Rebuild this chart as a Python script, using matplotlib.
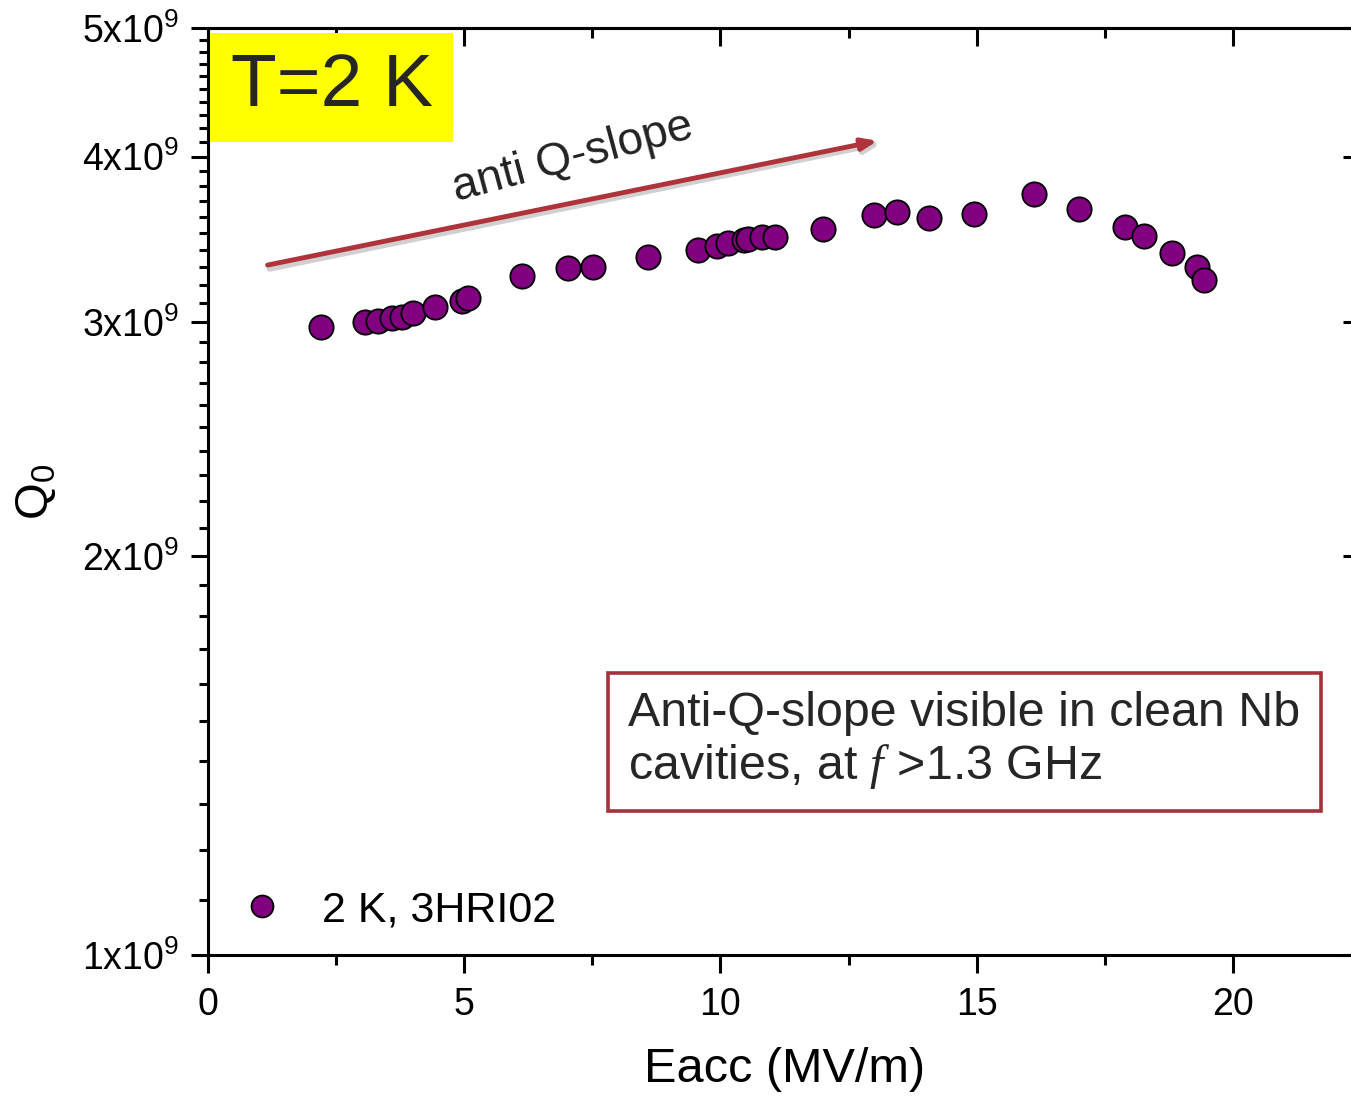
import matplotlib
matplotlib.use("Agg")
import matplotlib.pyplot as plt
import matplotlib.ticker as ticker
from matplotlib.patches import Rectangle

# Q0 vs accelerating field, 2 K, cavity 3HRI02
eacc = [2.21, 3.07, 3.32, 3.59, 3.79, 4.00, 4.43, 4.96, 5.08,
        6.13, 7.03, 7.52, 8.59, 9.57, 9.94, 10.14, 10.45, 10.53, 10.82, 11.07,
        12.01, 12.99, 13.44, 14.06, 14.94, 16.11, 16.99, 17.89, 18.26, 18.81,
        19.30, 19.43]
q0 = [2.974e9, 3.003e9, 3.008e9, 3.021e9, 3.029e9, 3.047e9, 3.082e9, 3.114e9, 3.127e9,
      3.251e9, 3.294e9, 3.300e9, 3.361e9, 3.401e9, 3.425e9, 3.444e9, 3.458e9, 3.465e9, 3.477e9, 3.481e9,
      3.526e9, 3.615e9, 3.636e9, 3.594e9, 3.621e9, 3.749e9, 3.651e9, 3.542e9, 3.487e9, 3.385e9,
      3.300e9, 3.228e9]

y_major = [1e9, 2e9, 3e9, 4e9, 5e9]
y_major_labels = [r'$\mathregular{1x10^9}$', r'$\mathregular{2x10^9}$', r'$\mathregular{3x10^9}$',
                  r'$\mathregular{4x10^9}$', r'$\mathregular{5x10^9}$']
x_major = [0, 5, 10, 15, 20]

plt.rcParams['font.family'] = ['Liberation Sans', 'DejaVu Sans']
plt.rcParams['mathtext.fontset'] = 'custom'
plt.rcParams['mathtext.rm'] = 'Liberation Sans'
plt.rcParams['mathtext.it'] = 'Liberation Serif:italic'

fig = plt.figure(figsize=(13.51, 10.99), dpi=100)
ax = fig.add_axes([0.154, 0.131, 0.8534, 0.8435])

ax.plot(eacc, q0, ls='none', marker='o', ms=17.5, mfc='#800080', mec='black',
        mew=1.3, label='2 K, 3HRI02', zorder=4)

ax.set_yscale('log')
ax.set_xlim(0, 22.5)
ax.set_ylim(1e9, 5e9)

ax.xaxis.set_major_locator(ticker.FixedLocator(x_major))
ax.xaxis.set_minor_locator(ticker.MultipleLocator(2.5))
ax.yaxis.set_major_locator(ticker.FixedLocator(y_major))
ax.yaxis.set_major_formatter(ticker.FixedFormatter(y_major_labels))
minor_y = [m * 1e8 for m in range(11, 50) if m % 10 != 0]
ax.yaxis.set_minor_locator(ticker.FixedLocator(minor_y))
ax.yaxis.set_minor_formatter(ticker.NullFormatter())

for side in ax.spines.values():
    side.set_linewidth(2.2)
ax.tick_params(axis='x', which='major', direction='out', length=13, width=2.2,
               labelsize=27, pad=10, top=False)
ax.tick_params(axis='x', which='minor', direction='out', length=7, width=2.2, top=False)
ax.tick_params(axis='y', which='major', direction='out', length=12, width=2.2,
               labelsize=27, pad=9, right=False)
ax.tick_params(axis='y', which='minor', direction='out', length=6.5, width=2.2, right=False)

# inward ticks on the top and right spines
ax_t = ax.secondary_xaxis('top')
ax_t.xaxis.set_major_locator(ticker.FixedLocator(x_major))
ax_t.xaxis.set_minor_locator(ticker.MultipleLocator(2.5))
ax_t.tick_params(which='major', direction='in', length=13, width=2.2, labeltop=False)
ax_t.tick_params(which='minor', direction='in', length=7, width=2.2)
ax_t.spines['top'].set_linewidth(2.2)
ax_r = ax.secondary_yaxis('right')
ax_r.set_yscale('log')
ax_r.yaxis.set_major_locator(ticker.FixedLocator(y_major))
ax_r.yaxis.set_minor_locator(ticker.NullLocator())
ax_r.tick_params(which='major', direction='in', length=13, width=2.2, labelright=False)
ax_r.spines['right'].set_linewidth(2.2)

ax.set_xlabel('Eacc (MV/m)', fontsize=35, labelpad=17)
ax.set_ylabel(r'$\mathregular{Q_0}$', fontsize=34, labelpad=17)

# temperature tag on a yellow patch
ax.add_patch(Rectangle((0.0017, 0.877), 0.2108, 0.1176, transform=ax.transAxes,
                       fc='#FFFF00', ec='none', zorder=3))
ax.text(0.1075, 0.9374, 'T=2 K', transform=ax.transAxes, fontsize=54, color='#262626',
        ha='center', va='center', zorder=5)

# anti Q-slope arrow with a soft shadow
ax.annotate('', xy=(13.2, 4.10e9), xytext=(1.15, 3.29e9),
            arrowprops=dict(arrowstyle='-|>,head_length=0.9,head_width=0.35',
                            color='#d0d0d0', lw=4.5), zorder=2)
ax.annotate('', xy=(13.12, 4.115e9), xytext=(1.11, 3.31e9),
            arrowprops=dict(arrowstyle='-|>,head_length=0.9,head_width=0.35',
                            color='#B0333B', lw=3.5), zorder=3)
ax.text(7.11, 3.99e9, 'anti Q-slope', fontsize=33, color='#222222', rotation=15,
        ha='center', va='center', rotation_mode='anchor')

ax.text(8.2, 1.45e9, 'Anti-Q-slope visible in clean Nb\ncavities, at $f$ >1.3 GHz',
        fontsize=34.8, color='#262626', ha='left', va='center', linespacing=1.15,
        bbox=dict(boxstyle='square,pad=0.42', fc='white', ec='#A8303A', lw=2.6))

ax.legend(loc='center left', bbox_to_anchor=(0.0208, 0.0485), frameon=False, fontsize=31,
          handlelength=1.0, handletextpad=0.89, borderpad=0.2, borderaxespad=0,
          markerscale=0.9)

fig.savefig('out.png', dpi=100)
